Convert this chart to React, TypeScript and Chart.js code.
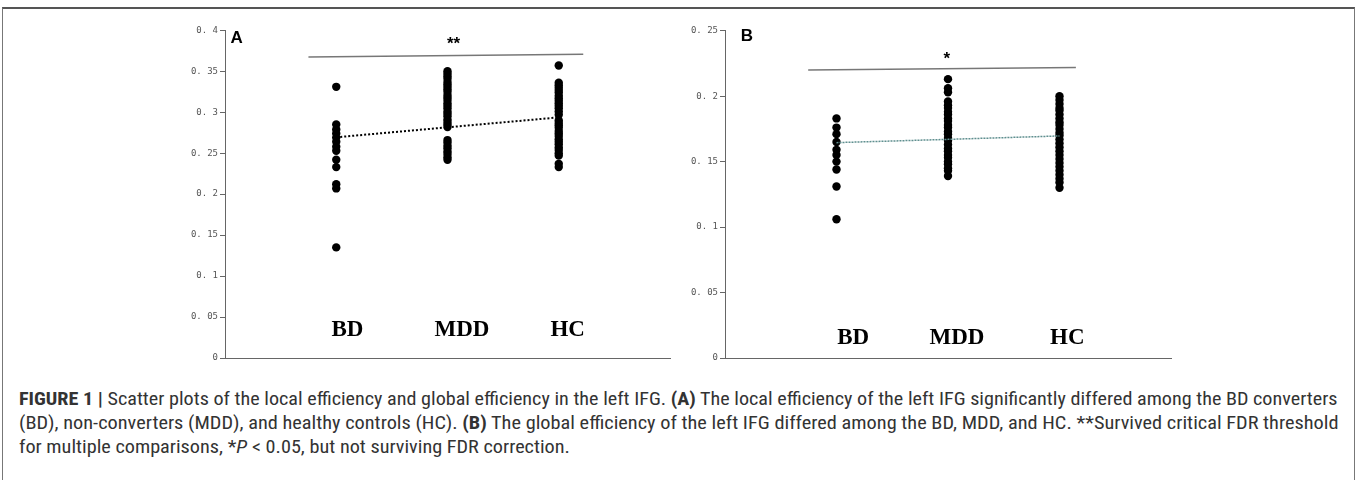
import React, { useEffect, useLayoutEffect, useRef, useState } from 'react';
import { Chart, registerables } from 'chart.js';

Chart.register(...registerables);

// ---------- data ----------
const categories = ['BD', 'MDD', 'HC'];
const categoryX = [0, 1, 2];

// Panel A: local efficiency
const localBD = [0.331, 0.285, 0.279, 0.274, 0.269, 0.264, 0.258, 0.253, 0.242, 0.233, 0.212, 0.207, 0.135];
const localMDD = [0.35, 0.347, 0.344, 0.341, 0.337, 0.334, 0.331, 0.328, 0.325, 0.321, 0.318, 0.315, 0.311, 0.308, 0.305, 0.301, 0.298, 0.295, 0.291, 0.288, 0.285, 0.282, 0.266, 0.263, 0.259, 0.256, 0.252, 0.249, 0.245, 0.242];
const localHC = [0.357, 0.336, 0.333, 0.33, 0.327, 0.324, 0.32, 0.317, 0.314, 0.311, 0.308, 0.305, 0.301, 0.297, 0.29, 0.287, 0.284, 0.281, 0.277, 0.274, 0.271, 0.267, 0.264, 0.261, 0.257, 0.254, 0.25, 0.247, 0.237, 0.233];
const localTrend = [0.2694, 0.2816, 0.2937];
const localSigX = [-0.25, 2.22];
const localSigY = [0.3675, 0.3708];
const localTicks = [0, 0.05, 0.1, 0.15, 0.2, 0.25, 0.3, 0.35, 0.4];

// Panel B: global efficiency
const globalBD = [0.183, 0.176, 0.171, 0.165, 0.159, 0.155, 0.15, 0.144, 0.131, 0.106];
const globalMDD = [0.213, 0.206, 0.203, 0.196, 0.193, 0.191, 0.188, 0.186, 0.183, 0.181, 0.178, 0.176, 0.173, 0.171, 0.168, 0.166, 0.163, 0.16, 0.158, 0.155, 0.153, 0.15, 0.148, 0.145, 0.143, 0.139];
const globalHC = [0.2, 0.197, 0.194, 0.191, 0.189, 0.186, 0.183, 0.18, 0.178, 0.175, 0.172, 0.17, 0.167, 0.164, 0.161, 0.158, 0.155, 0.152, 0.149, 0.146, 0.143, 0.14, 0.137, 0.134, 0.13];
const globalTrend = [0.1645, 0.167, 0.1696];
const globalSigX = [-0.254, 2.147];
const globalSigY = [0.22, 0.2218];
const globalTicks = [0, 0.05, 0.1, 0.15, 0.2, 0.25];

// ---------- helpers ----------
const AXIS = '#666';

function tickText(v: number) {
  if (Math.abs(v) < 1e-9) return '0';
  const s = String(+v.toFixed(2));
  return s.replace('0.', '0. ');
}

const annotPlugin = {
  id: 'annot',
  afterDatasetsDraw(chart: any, _args: any, opts: any) {
    const ctx = chart.ctx;
    const xs = chart.scales.x;
    const ys = chart.scales.y;
    (opts.items || []).forEach((it: any) => {
      ctx.save();
      ctx.font = it.font;
      ctx.fillStyle = it.color || '#000';
      ctx.textAlign = 'center';
      ctx.textBaseline = 'middle';
      ctx.fillText(it.text, xs.getPixelForValue(it.x), ys.getPixelForValue(it.y));
      ctx.restore();
    });
  },
};

function column(values: number[], x: number) {
  return values.map((v) => ({ x, y: v }));
}

function buildConfig(p: {
  groups: number[][];
  trend: number[];
  trendColor: string;
  trendDash: number[];
  trendWidth: number;
  sigX: number[];
  sigY: number[];
  ticks: number[];
  axisWidth: number;
  rightPad: number;
  topPad: number;
  items: any[];
}) {
  const yMax = p.ticks[p.ticks.length - 1];
  return {
    type: 'scatter' as const,
    data: {
      datasets: [
        ...p.groups.map((g, i) => ({
          type: 'scatter' as const,
          label: categories[i],
          data: column(g, categoryX[i]),
          pointRadius: 4.2,
          pointHoverRadius: 4.2,
          backgroundColor: '#000',
          borderColor: '#000',
          borderWidth: 0,
        })),
        {
          type: 'line' as const,
          label: 'trend',
          data: categoryX.map((x, i) => ({ x, y: p.trend[i] })),
          borderColor: p.trendColor,
          borderWidth: p.trendWidth,
          borderDash: p.trendDash,
          pointRadius: 0,
          fill: false,
          order: -1,
        },
        {
          type: 'line' as const,
          label: 'sig',
          data: p.sigX.map((x, i) => ({ x, y: p.sigY[i] })),
          borderColor: '#777',
          borderWidth: 1.5,
          pointRadius: 0,
          fill: false,
        },
      ],
    },
    options: {
      animation: false,
      responsive: false,
      maintainAspectRatio: false,
      events: [],
      layout: { padding: { left: 0, right: p.rightPad, top: p.topPad, bottom: 0 } },
      plugins: {
        legend: { display: false },
        tooltip: { enabled: false },
        annot: { items: p.items },
      },
      scales: {
        x: {
          type: 'linear',
          min: -1,
          max: 3,
          ticks: { display: false },
          grid: { display: false },
          border: { display: true, color: AXIS, width: 1 },
          afterFit(s: any) {
            s.height = 12;
          },
        },
        y: {
          type: 'linear',
          min: 0,
          max: yMax,
          afterBuildTicks(s: any) {
            s.ticks = p.ticks.map((v) => ({ value: v }));
          },
          ticks: {
            callback: (v: any) => tickText(Number(v)),
            color: '#555',
            font: { family: '"DejaVu Sans Mono", "Liberation Mono", monospace', size: 9 },
            padding: 2,
          },
          grid: { display: true, drawOnChartArea: false, drawTicks: true, tickLength: 5, color: AXIS },
          border: { display: true, color: AXIS, width: 1 },
          afterFit(s: any) {
            s.width = p.axisWidth;
          },
        },
      },
    },
    plugins: [annotPlugin],
  };
}

const catFont = 'bold 23px "Liberation Serif", "Times New Roman", serif';
const letterFont = 'bold 17px "Liberation Sans", Arial, sans-serif';
const starFont = 'bold 17px "Liberation Sans", Arial, sans-serif';

function ChartCanvas({ config, style }: { config: any; style: React.CSSProperties }) {
  const ref = useRef<HTMLCanvasElement | null>(null);
  useEffect(() => {
    if (!ref.current) return;
    const chart = new Chart(ref.current, config);
    return () => chart.destroy();
  }, [config]);
  return <canvas ref={ref} width={540} height={350} style={{ position: 'absolute', width: 540, height: 350, ...style }} />;
}

const configA = buildConfig({
  groups: [localBD, localMDD, localHC],
  trend: localTrend,
  trendColor: '#000',
  trendDash: [2, 2],
  trendWidth: 2,
  sigX: localSigX,
  sigY: localSigY,
  ticks: localTicks,
  axisWidth: 75,
  rightPad: 20,
  topPad: 10.3,
  items: [
    { text: 'A', x: -0.896, y: 0.3906, font: letterFont },
    { text: '**', x: 1.054, y: 0.383, font: starFont },
    { text: categories[0], x: 0.1, y: 0.0344, font: catFont },
    { text: categories[1], x: 1.13, y: 0.0344, font: catFont },
    { text: categories[2], x: 2.08, y: 0.0344, font: catFont },
  ],
});

const configB = buildConfig({
  groups: [globalBD, globalMDD, globalHC],
  trend: globalTrend,
  trendColor: '#5f8f8f',
  trendDash: [2, 1],
  trendWidth: 1.5,
  sigX: globalSigX,
  sigY: globalSigY,
  ticks: globalTicks,
  axisWidth: 55,
  rightPad: 39,
  topPad: 10.7,
  items: [
    { text: 'B', x: -0.804, y: 0.246, font: letterFont },
    { text: '*', x: 0.99, y: 0.2285, font: starFont },
    { text: categories[0], x: 0.15, y: 0.0155, font: catFont },
    { text: categories[1], x: 1.08, y: 0.0155, font: catFont },
    { text: categories[2], x: 2.07, y: 0.0155, font: catFont },
  ],
});

const captionFont = '"Roboto Condensed", Roboto, "Liberation Sans", sans-serif';
const CAPTION_WIDTH = 1319;

function Caption() {
  const r1 = useRef<HTMLSpanElement | null>(null);
  const r2 = useRef<HTMLSpanElement | null>(null);
  const [sx, setSx] = useState<number[]>([1, 1, 1]);
  useLayoutEffect(() => {
    const w1 = r1.current ? r1.current.offsetWidth : CAPTION_WIDTH;
    const w2 = r2.current ? r2.current.offsetWidth : CAPTION_WIDTH;
    const s1 = CAPTION_WIDTH / w1;
    const s2 = CAPTION_WIDTH / w2;
    setSx([s1, s2, (s1 + s2) / 2]);
  }, []);
  const line = (top: number, s: number): React.CSSProperties => ({
    position: 'absolute',
    left: 19,
    top,
    display: 'inline-block',
    whiteSpace: 'nowrap',
    fontFamily: captionFont,
    fontSize: 18,
    color: '#333',
    lineHeight: '22px',
    transform: `scaleX(${s})`,
    transformOrigin: 'left top',
  });
  return (
    <>
      <span ref={r1} style={line(388, sx[0])}>
        <b>FIGURE 1 |</b> Scatter plots of the local efficiency and global efficiency in the left IFG. <b>(A)</b> The local efficiency of the left IFG significantly differed among the BD converters
      </span>
      <span ref={r2} style={line(412, sx[1])}>
        (BD), non-converters (MDD), and healthy controls (HC). <b>(B)</b> The global efficiency of the left IFG differed among the BD, MDD, and HC. **Survived critical FDR threshold
      </span>
      <span style={line(436, sx[2])}>
        for multiple comparisons, *<i>P</i> &lt; 0.05, but not surviving FDR correction.
      </span>
    </>
  );
}

export default function App() {
  return (
    <div style={{ position: 'absolute', left: 0, top: 0, width: 1357, height: 480, background: '#fff', overflow: 'hidden' }}>
      <div
        style={{
          position: 'absolute',
          left: 2,
          top: 7,
          width: 1351,
          height: 500,
          borderTop: '2px solid #555',
          borderLeft: '1.5px solid #777',
          borderRight: '1.5px solid #777',
        }}
      />
      <ChartCanvas config={configA} style={{ left: 150, top: 20 }} />
      <ChartCanvas config={configB} style={{ left: 670, top: 20 }} />
      <Caption />
    </div>
  );
}
